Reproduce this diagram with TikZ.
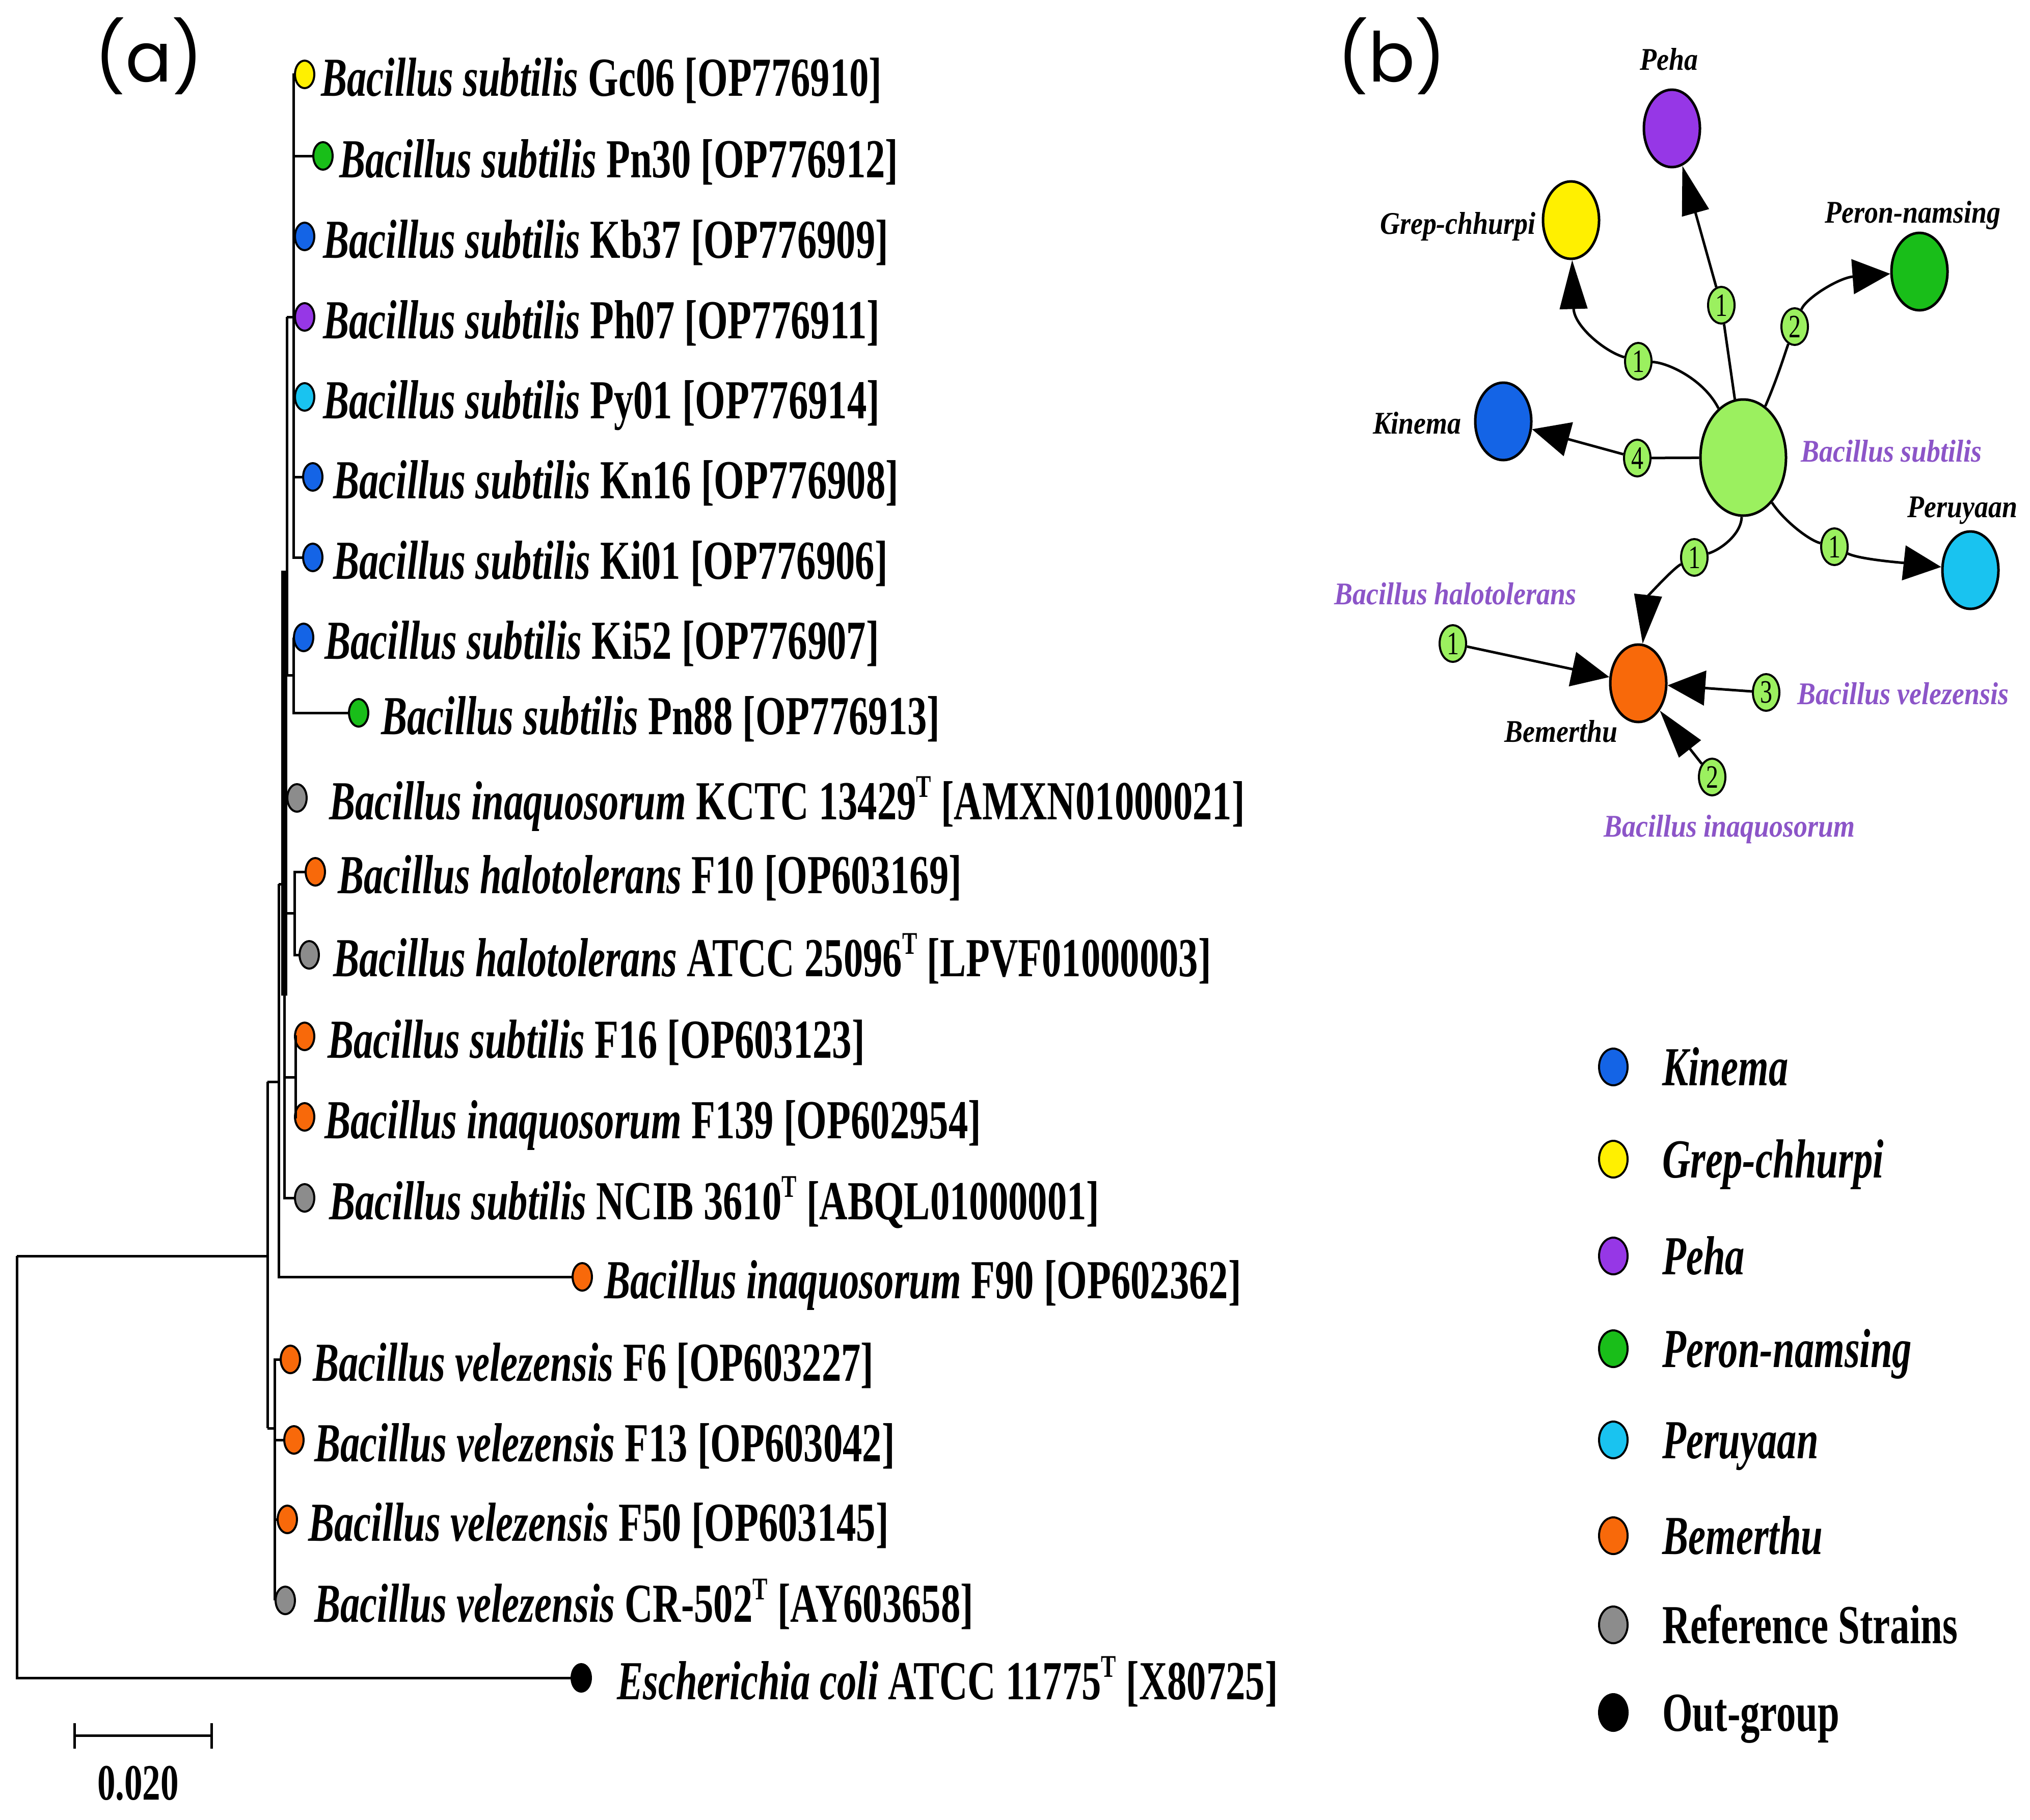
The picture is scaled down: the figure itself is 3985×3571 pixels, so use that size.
\documentclass[tikz,border=0pt]{standalone}
\usepackage{fontspec}
\setmainfont{Liberation Serif}
\newfontfamily\tf[FakeStretch=0.71]{Liberation Serif}
\newfontfamily\nf[FakeStretch=0.87]{Liberation Serif}
\newfontfamily\df[FakeStretch=0.75]{Liberation Serif}
\newfontfamily\pf{Poppins}
\usetikzlibrary{shapes.geometric,arrows.meta}
\definecolor{cyel}{RGB}{255,240,0}
\definecolor{cgrn}{RGB}{25,190,25}
\definecolor{cblu}{RGB}{20,100,230}
\definecolor{cpur}{RGB}{150,55,230}
\definecolor{ccya}{RGB}{25,195,240}
\definecolor{cora}{RGB}{248,105,10}
\definecolor{cgry}{RGB}{140,140,140}
\definecolor{clgr}{RGB}{155,240,95}
\definecolor{cplab}{RGB}{140,85,200}
\newcommand\supT{\raisebox{0.4em}{\fontsize{62}{62}\selectfont T}}
\tikzset{
  leaf/.style={ellipse, draw=black, line width=4pt, minimum width=38pt, minimum height=54pt, inner sep=0pt},
  lab/.style={anchor=base west, inner sep=0pt, font=\tf\bfseries\fontsize{108}{110}\selectfont},
  br/.style={line width=5pt},
  net/.style={ellipse, draw=black, line width=5pt, inner sep=0pt, minimum width=110pt, minimum height=152pt},
  num/.style={ellipse, draw=black, line width=4pt, fill=clgr, inner sep=0pt, minimum width=52pt, minimum height=72pt, font=\df\fontsize{64}{64}\selectfont},
  nlab/.style={inner sep=0pt, font=\nf\bfseries\itshape\fontsize{62}{64}\selectfont},
  plab/.style={nlab, text=cplab},
  edg/.style={line width=5pt},
  arrh/.style={line width=5pt, -{Triangle[length=74pt,width=68pt]}},
  arrv/.style={line width=5pt, -{Triangle[length=96pt,width=54pt]}},
  legc/.style={ellipse, draw=black, line width=4pt, minimum width=56pt, minimum height=72pt, inner sep=0pt},
  panel/.style={inner sep=0pt, font=\pf\fontsize{135}{140}\selectfont}
}
\begin{document}
\begin{tikzpicture}[x=1pt,y=-1pt]
\useasboundingbox (0,0) rectangle (3985,3571);
% panel labels
\node[panel] (pa) at (292,110) {(a)};
\node[panel] (pb) at (2732,110) {(b)};

% ---------- tree leaves ----------
\node[leaf, fill=cyel] (l1) at (598,146) {};
\node[leaf, fill=cgrn] (l2) at (634,306) {};
\node[leaf, fill=cblu] (l3) at (598,464) {};
\node[leaf, fill=cpur] (l4) at (598,622) {};
\node[leaf, fill=ccya] (l5) at (598,779) {};
\node[leaf, fill=cblu] (l6) at (614,936) {};
\node[leaf, fill=cblu] (l7) at (614,1094) {};
\node[leaf, fill=cblu] (l8) at (596,1251) {};
\node[leaf, fill=cgrn] (l9) at (704,1399) {};
\node[leaf, fill=cgry] (l10) at (583,1566) {};
\node[leaf, fill=cora] (l11) at (619,1711) {};
\node[leaf, fill=cgry] (l12) at (607,1874) {};
\node[leaf, fill=cora] (l13) at (598,2034) {};
\node[leaf, fill=cora] (l14) at (598,2192) {};
\node[leaf, fill=cgry] (l15) at (598,2351) {};
\node[leaf, fill=cora] (l16) at (1143,2506) {};
\node[leaf, fill=cora] (l17) at (570,2668) {};
\node[leaf, fill=cora] (l18) at (577,2826) {};
\node[leaf, fill=cora] (l19) at (564,2982) {};
\node[leaf, fill=cgry] (l20) at (560,3141) {};
\node[leaf, fill=black] (l21) at (1141,3293) {};

% ---------- tree labels ----------
\node[lab] (t1) at (630,188) {\textit{Bacillus subtilis} Gc06 [OP776910]};
\node[lab] (t2) at (666,348) {\textit{Bacillus subtilis} Pn30 [OP776912]};
\node[lab] (t3) at (634,506) {\textit{Bacillus subtilis} Kb37 [OP776909]};
\node[lab] (t4) at (634,664) {\textit{Bacillus subtilis} Ph07 [OP776911]};
\node[lab] (t5) at (634,821) {\textit{Bacillus subtilis} Py01 [OP776914]};
\node[lab] (t6) at (654,978) {\textit{Bacillus subtilis} Kn16 [OP776908]};
\node[lab] (t7) at (654,1136) {\textit{Bacillus subtilis} Ki01 [OP776906]};
\node[lab] (t8) at (637,1293) {\textit{Bacillus subtilis} Ki52 [OP776907]};
\node[lab] (t9) at (748,1441) {\textit{Bacillus subtilis} Pn88 [OP776913]};
\node[lab] (t10) at (646,1608) {\textit{Bacillus inaquosorum} KCTC 13429\supT{} [AMXN01000021]};
\node[lab] (t11) at (663,1753) {\textit{Bacillus halotolerans} F10 [OP603169]};
\node[lab] (t12) at (654,1916) {\textit{Bacillus halotolerans} ATCC 25096\supT{} [LPVF01000003]};
\node[lab] (t13) at (643,2076) {\textit{Bacillus subtilis} F16 [OP603123]};
\node[lab] (t14) at (637,2234) {\textit{Bacillus inaquosorum} F139 [OP602954]};
\node[lab] (t15) at (646,2393) {\textit{Bacillus subtilis} NCIB 3610\supT{} [ABQL01000001]};
\node[lab] (t16) at (1186,2548) {\textit{Bacillus inaquosorum} F90 [OP602362]};
\node[lab] (t17) at (614,2710) {\textit{Bacillus velezensis} F6 [OP603227]};
\node[lab] (t18) at (617,2868) {\textit{Bacillus velezensis} F13 [OP603042]};
\node[lab] (t19) at (605,3024) {\textit{Bacillus velezensis} F50 [OP603145]};
\node[lab] (t20) at (617,3183) {\textit{Bacillus velezensis} CR-502\supT{} [AY603658]};
\node[lab] (t21) at (1211,3335) {\textit{Escherichia coli} ATCC 11775\supT{} [X80725]};

% ---------- tree branches ----------
\coordinate (r1) at (33,2465);
\coordinate (r2) at (33,3293);
\coordinate (b0) at (525,2465);
\coordinate (bt) at (525,2123);
\coordinate (bb) at (525,2803);
\coordinate (cj) at (547,2123);
\coordinate (c1) at (547,1735);
\coordinate (c2) at (547,2506);
\coordinate (dc) at (558,1735);
\coordinate (d1) at (558,1120);
\coordinate (d2) at (558,1954);
\coordinate (d3) at (558,2351);
\coordinate (dk) at (558,1566);
\coordinate (dh) at (558,1792);
\coordinate (h1) at (578,1711);
\coordinate (h2) at (578,1874);
\coordinate (hj) at (578,1792);
\coordinate (dg) at (558,2114);
\coordinate (g1) at (580,2034);
\coordinate (g2) at (580,2192);
\coordinate (gj) at (580,2114);
\coordinate (f1) at (563,622);
\coordinate (f2) at (563,1325);
\coordinate (e1) at (576,146);
\coordinate (e2) at (576,306);
\coordinate (e3) at (576,464);
\coordinate (e4) at (576,622);
\coordinate (e5) at (576,779);
\coordinate (e6) at (576,936);
\coordinate (e7) at (576,1094);
\coordinate (k1) at (576,1251);
\coordinate (k2) at (576,1399);
\coordinate (kj) at (576,1325);
\coordinate (v1) at (539,2668);
\coordinate (v2) at (539,3141);
\coordinate (vj) at (539,2803);
\coordinate (v3) at (539,2826);
\coordinate (v4) at (539,2982);

\draw[br] (r1) -- (r2) -- (l21);
\draw[br] (r1) -- (b0);
\draw[br] (bt) -- (bb);
\draw[br] (bt) -- (cj);
\draw[br] (c1) -- (c2) -- (l16);
\draw[br] (c1) -- (dc);
\draw[line width=12pt] (d1) -- (d2);
\draw[br] (d2) -- (d3) -- (l15);
\draw[br] (dk) -- (l10);
\draw[br] (l11) -- (h1) -- (h2) -- (l12);
\draw[br] (dh) -- (hj);
\draw[br] (l13) -- (g1) -- (g2) -- (l14);
\draw[br] (dg) -- (gj);
\draw[br] (f1) -- (f2);
\draw[br] (f1) -- (e4);
\draw[br] (l1) -- (e1) -- (e7) -- (l7);
\draw[br] (e2) -- (l2);
\draw[br] (e3) -- (l3);
\draw[br] (e4) -- (l4);
\draw[br] (e5) -- (l5);
\draw[br] (e6) -- (l6);
\draw[br] (f2) -- (kj);
\draw[br] (l8) -- (k1) -- (k2) -- (l9);
\draw[br] (bb) -- (vj);
\draw[br] (l17) -- (v1) -- (v2) -- (l20);
\draw[br] (v3) -- (l18);
\draw[br] (v4) -- (l19);

% scale bar
\coordinate (s1) at (146,3406);
\coordinate (s2) at (415,3406);
\draw[br] (s1) -- (s2);
\draw[br] ([yshift=24pt]s1) -- ([yshift=-26pt]s1);
\draw[br] ([yshift=24pt]s2) -- ([yshift=-26pt]s2);
\node[anchor=base, inner sep=0pt, font=\tf\bfseries\fontsize{100}{100}\selectfont] (sl) at (271,3532) {0.020};

% ---------- network (b) ----------
\node[net, fill=clgr, minimum width=168pt, minimum height=228pt] (sub) at (3422,898) {};
\node[net, fill=cyel] (grep) at (3084,432) {};
\node[net, fill=cpur] (peha) at (3282,252) {};
\node[net, fill=cgrn] (peron) at (3768,533) {};
\node[net, fill=cblu] (kin) at (2951,827) {};
\node[net, fill=ccya] (peru) at (3868,1119) {};
\node[net, fill=cora] (bem) at (3216,1341) {};

\node[num] (ngrep) at (3216,709) {1};
\node[num] (npeha) at (3379,599) {1};
\node[num] (nperon) at (3523,641) {2};
\node[num] (nkin) at (3214,899) {4};
\node[num] (nbem) at (3326,1094) {1};
\node[num] (nperu) at (3601,1073) {1};
\node[num] (nhalo) at (2852,1263) {1};
\node[num] (nvel) at (3467,1359) {3};
\node[num] (ninaq) at (3361,1525) {2};

\node[nlab, anchor=base] (lpeha) at (3276,137) {Peha};
\node[nlab, anchor=base east] (lgrep) at (3015,459) {Grep-chhurpi};
\node[nlab, anchor=base] (lperon) at (3755,437) {Peron-namsing};
\node[nlab, anchor=base east] (lkin) at (2869,851) {Kinema};
\node[plab, anchor=base west] (lsub) at (3535,906) {Bacillus subtilis};
\node[nlab, anchor=base west] (lperu) at (3744,1015) {Peruyaan};
\node[nlab, anchor=base west] (lbem) at (2953,1456) {Bemerthu};
\node[plab, anchor=base west] (lhalo) at (2619,1186) {Bacillus halotolerans};
\node[plab, anchor=base west] (lvel) at (3528,1382) {Bacillus velezensis};
\node[plab, anchor=base] (linaq) at (3395,1642) {Bacillus inaquosorum};

\draw[edg] (sub) -- (nkin);
\draw[arrh] (nkin) -- (kin);
\draw[edg] (sub) -- (npeha);
\draw[arrv] (npeha) -- (peha);
\draw[edg] (sub) .. controls (3345,745) and (3275,712) .. (ngrep);
\draw[arrv] (ngrep) .. controls (3150,690) and (3090,640) .. (grep);
\draw[edg] (sub) .. controls (3490,740) and (3505,690) .. (nperon);
\draw[arrh] (nperon) .. controls (3545,585) and (3610,545) .. (peron);
\draw[edg] (sub) .. controls (3418,1050) and (3375,1080) .. (nbem);
\draw[arrv] (nbem) .. controls (3285,1115) and (3235,1170) .. (bem);
\draw[edg] (sub) .. controls (3500,1020) and (3550,1060) .. (nperu);
\draw[arrh] (nperu) .. controls (3650,1098) and (3740,1105) .. (peru);
\draw[arrh] (nhalo) -- (bem);
\draw[arrh] (nvel) -- (bem);
\draw[arrv] (ninaq) -- (bem);

% ---------- legend ----------
\node[legc, fill=cblu] (g1c) at (3167,2094) {};
\node[legc, fill=cyel] (g2c) at (3167,2275) {};
\node[legc, fill=cpur] (g3c) at (3167,2465) {};
\node[legc, fill=cgrn] (g4c) at (3167,2647) {};
\node[legc, fill=ccya] (g5c) at (3167,2826) {};
\node[legc, fill=cora] (g6c) at (3167,3014) {};
\node[legc, fill=cgry] (g7c) at (3167,3189) {};
\node[legc, fill=black] (g8c) at (3167,3361) {};
\node[lab] (g1t) at (3263,2130) {\textit{Kinema}};
\node[lab] (g2t) at (3263,2311) {\textit{Grep-chhurpi}};
\node[lab] (g3t) at (3263,2501) {\textit{Peha}};
\node[lab] (g4t) at (3263,2683) {\textit{Peron-namsing}};
\node[lab] (g5t) at (3263,2862) {\textit{Peruyaan}};
\node[lab] (g6t) at (3263,3050) {\textit{Bemerthu}};
\node[lab] (g7t) at (3263,3225) {Reference Strains};
\node[lab] (g8t) at (3263,3397) {Out-group};
\end{tikzpicture}
\end{document}
